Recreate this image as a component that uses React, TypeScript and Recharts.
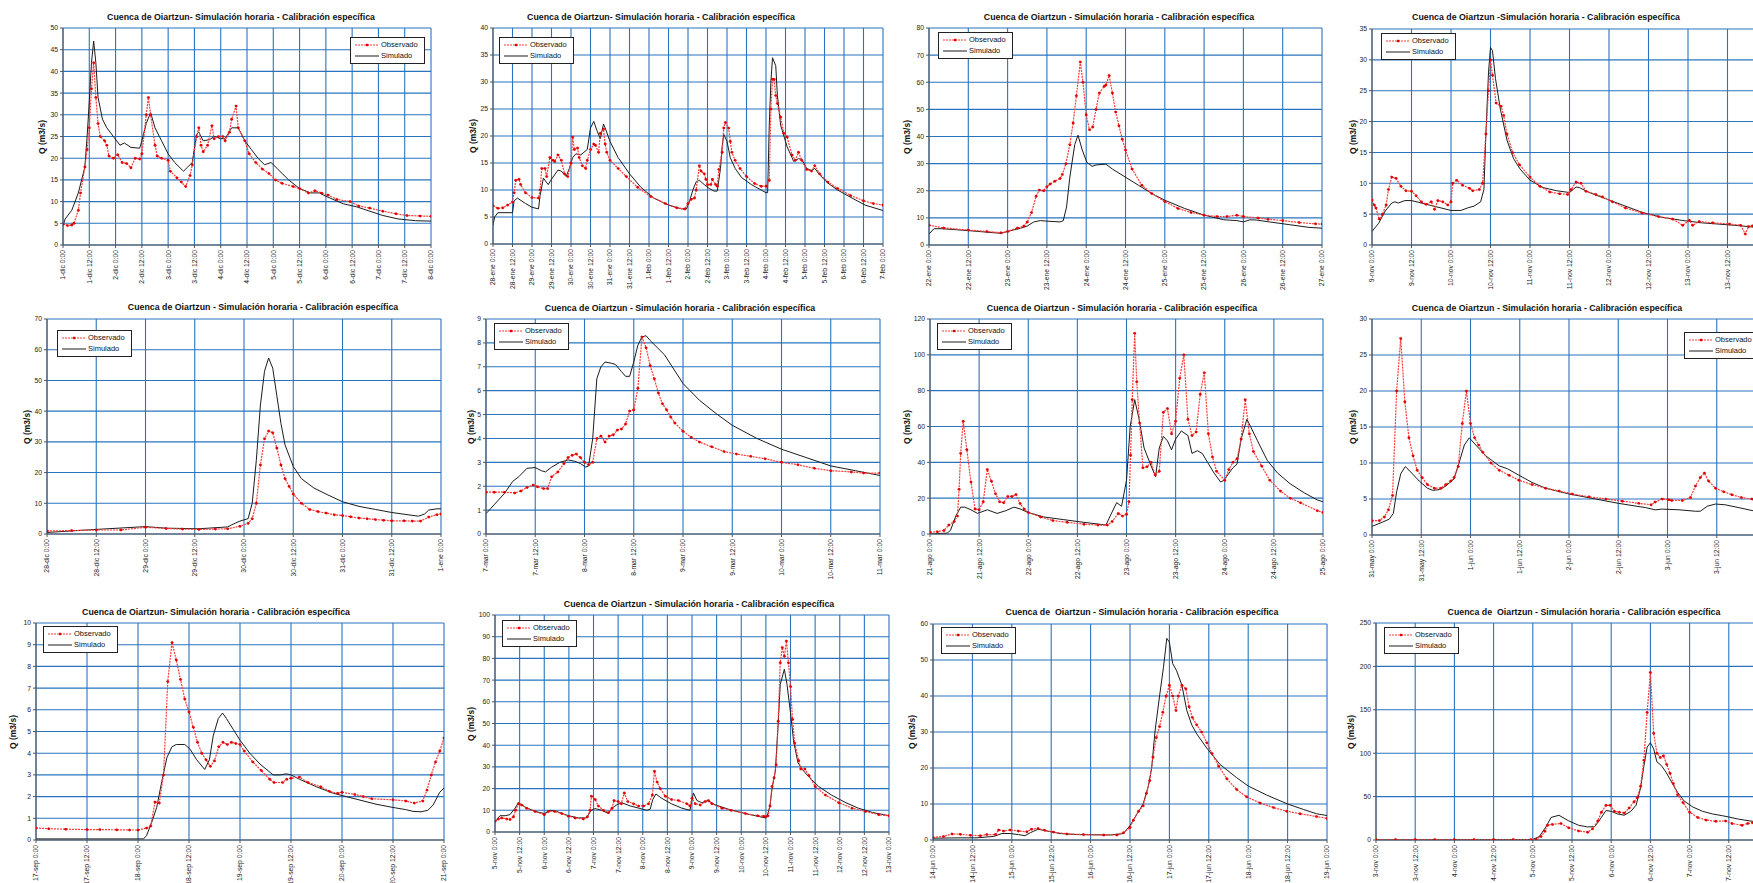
import React from 'react';
import { LineChart, Line, XAxis, YAxis, CartesianGrid, Legend } from 'recharts';

type Pt = [number, number];

const FONT = '"Liberation Sans", Arial, Helvetica, sans-serif';
const GRID = '#2a74bf';
const OBS_LINE = '#ff3a3a';
const OBS_DOT = '#e00000';
const SIM_LINE = '#1c1c1c';

const TITLE_A = 'Cuenca de Oiartzun- Simulación horaria - Calibración específica';
const TITLE_B = 'Cuenca de Oiartzun - Simulación horaria - Calibración específica';
const TITLE_C = 'Cuenca de Oiartzun -Simulación horaria - Calibración específica';
const TITLE_D = 'Cuenca de  Oiartzun - Simulación horaria - Calibración específica';
const Y_LABEL = 'Q (m3/s)';

// ---- panel 1: diciembre ----
const p1Ticks = ['1-dic 0:00', '1-dic 12:00', '2-dic 0:00', '2-dic 12:00', '3-dic 0:00', '3-dic 12:00', '4-dic 0:00', '4-dic 12:00', '5-dic 0:00', '5-dic 12:00', '6-dic 0:00', '6-dic 12:00', '7-dic 0:00', '7-dic 12:00', '8-dic 0:00'];
const p1Obs: Pt[] = [[0, 4.8], [2, 4.5], [4, 4.6], [5, 5], [7, 8], [8, 12], [10, 18], [11, 22], [12, 27], [13, 36], [14, 42], [15, 34], [16, 28], [17, 25], [19, 24], [20, 23], [21, 20.5], [23, 20], [25, 20.8], [27, 19], [29, 18.8], [31, 17.8], [33, 20], [35, 19.8], [36, 21], [38, 30], [39, 34], [40, 30], [42, 23], [43, 20.5], [45, 20], [48, 19.5], [49, 17], [52, 15.5], [54, 14.5], [56, 13.5], [58, 16], [59, 18.5], [61, 25], [62, 27], [63, 23], [64, 21.5], [66, 23], [68, 27.5], [69, 24.5], [71, 25], [73, 25], [74, 24], [76, 26], [77, 29], [79, 32], [80, 27], [83, 24], [85, 21], [88, 19], [91, 17.5], [94, 16.5], [97, 15], [100, 14.2], [105, 13.5], [108, 13], [112, 12], [115, 12.5], [118, 12], [121, 11.5], [125, 10.5], [131, 10], [135, 9], [140, 8.5], [146, 7.8], [152, 7.2], [157, 6.8], [163, 6.7], [168, 6.6]];
const p1Sim: Pt[] = [[0, 4.5], [1, 6], [4, 8], [7, 12], [10, 18], [11, 25], [12, 33], [13, 42], [14, 47], [15, 42], [16, 34], [18, 29], [20, 27], [23, 25], [26, 23], [28, 23.5], [31, 22.5], [35, 22.3], [36, 24], [38, 28], [40, 30.5], [42, 27], [45, 24], [48, 21], [51, 19], [55, 17], [57, 18], [59, 19], [61, 25.5], [62, 26], [64, 24], [67, 24.3], [69, 25], [72, 24.5], [74, 24.5], [77, 27], [80, 27], [83, 24], [86, 22], [89, 20], [92, 18.5], [95, 19], [98, 17.5], [103, 15], [108, 13], [113, 12], [117, 12], [121, 11], [128, 9.5], [134, 8.8], [140, 7.8], [146, 6.8], [153, 6], [161, 5.6], [168, 5.5]];

// ---- panel 2: enero-febrero ----
const p2Ticks = ['28-ene 0:00', '28-ene 12:00', '29-ene 0:00', '29-ene 12:00', '30-ene 0:00', '30-ene 12:00', '31-ene 0:00', '31-ene 12:00', '1-feb 0:00', '1-feb 12:00', '2-feb 0:00', '2-feb 12:00', '3-feb 0:00', '3-feb 12:00', '4-feb 0:00', '4-feb 12:00', '5-feb 0:00', '5-feb 12:00', '6-feb 0:00', '6-feb 12:00', '7-feb 0:00'];
const p2Obs: Pt[] = [[0, 7.1], [3, 6.6], [6, 6.7], [9, 7.2], [12, 7.8], [13, 9.5], [14, 11.8], [16, 12], [17, 11], [20, 9.5], [24, 8.6], [28, 8.5], [29, 10], [30, 14], [32, 14], [33, 12.5], [35, 16], [37, 15.5], [38, 15.3], [40, 16.5], [42, 15.5], [44, 13], [46, 12.5], [48, 15], [49, 19.8], [50, 17.5], [52, 17.8], [53, 16], [55, 14.5], [57, 14], [58, 15.5], [60, 17.5], [62, 18.5], [63, 18.3], [65, 17], [66, 20.5], [68, 21.3], [69, 18.5], [70, 17], [72, 15.5], [77, 14], [82, 12.5], [89, 10.5], [97, 8.8], [106, 7.5], [113, 6.7], [118, 6.5], [120, 7.5], [122, 8.3], [124, 8.5], [125, 10], [127, 14.5], [128, 13.5], [130, 13], [131, 12], [132, 11], [134, 11], [135, 12], [137, 11], [138, 10.7], [139, 13.8], [141, 17], [142, 21.5], [143, 22.5], [145, 21.5], [146, 19], [147, 17], [149, 15.5], [152, 14], [156, 12.5], [161, 11.2], [165, 10.7], [168, 10.7], [170, 11.8], [171, 25], [172, 30.5], [173, 30.5], [174, 27.5], [175, 26], [177, 23.5], [179, 20.5], [181, 19.8], [184, 16.5], [186, 15.5], [188, 17], [190, 15.5], [193, 13.8], [196, 13.5], [198, 14.5], [201, 13], [206, 11.5], [212, 10.3], [220, 9], [228, 8], [234, 7.5], [240, 7.2]];
const p2Sim: Pt[] = [[0, 3.5], [1, 5], [3, 5.8], [12, 5.8], [13, 8], [15, 8.5], [20, 7.5], [24, 6.8], [28, 6.5], [29, 9], [31, 12.2], [34, 11], [36, 12], [40, 13.7], [42, 13.5], [45, 12.5], [47, 14], [49, 16], [51, 16.7], [54, 16.5], [56, 17], [58, 17.5], [60, 21.5], [62, 22.7], [64, 21], [66, 19.5], [68, 22.2], [69, 21.5], [72, 19], [77, 16], [84, 13], [91, 10.5], [99, 8.5], [108, 7.2], [116, 6.5], [119, 6.5], [121, 8], [123, 10], [125, 11.5], [127, 11.8], [130, 11], [133, 10.3], [136, 9.8], [138, 9.8], [140, 14], [141, 18], [142, 20.3], [144, 19], [146, 16], [149, 14], [153, 12.3], [159, 11], [165, 10], [168, 9.5], [169, 9.5], [170, 22], [171, 30], [172, 34.5], [174, 33], [175, 27.5], [177, 22], [181, 18], [184, 16], [185, 15.3], [188, 15.8], [190, 15.7], [193, 14], [196, 13.6], [198, 14], [201, 12.8], [206, 11.3], [212, 10], [221, 8.5], [229, 7.2], [240, 6.2]];

// ---- panel 3: enero ----
const p3Ticks = ['22-ene 0:00', '22-ene 12:00', '23-ene 0:00', '23-ene 12:00', '24-ene 0:00', '24-ene 12:00', '25-ene 0:00', '25-ene 12:00', '26-ene 0:00', '26-ene 12:00', '27-ene 0:00'];
const p3Obs: Pt[] = [[0, 7.3], [4.5, 6.3], [12, 5.5], [17.7, 5], [22, 4.5], [24, 5], [27, 6.3], [29, 7], [30, 8.5], [31.3, 12], [32.7, 18], [33.7, 20.3], [35, 20], [36, 21.5], [37, 22.5], [38.4, 23.5], [40, 24.5], [40.7, 26], [41.8, 30], [43, 37], [44, 45], [45, 55], [46.2, 67.5], [47, 60], [48, 48], [49, 42.5], [50, 43.5], [51, 50], [52, 56], [53.5, 58.5], [54, 59], [55, 62.5], [56, 56], [57, 49], [58, 44], [59, 39], [60, 35], [62, 28], [65, 22], [68, 19], [72, 16], [76, 13.5], [80, 12], [84, 11], [88, 10.5], [91, 10.5], [94, 11], [96, 10.5], [100.5, 10], [103.5, 9.5], [108, 9], [113, 8.3], [118, 7.8], [120, 7.7]];
const p3Sim: Pt[] = [[0, 4], [1.5, 6], [4, 6], [12, 5.3], [18, 4.7], [22, 4.3], [24, 5], [28, 6.2], [30, 7], [32, 8.5], [34, 9], [36, 8.8], [40, 8.5], [41, 9], [42, 14], [43, 25], [44.5, 37], [45.5, 40.5], [46.8, 35], [48.2, 30.5], [49.8, 29], [51, 29.5], [54, 29.8], [56, 28], [60, 25], [64, 22], [68, 19], [72, 16.5], [78, 13.5], [84, 11], [90, 9.3], [94, 9], [96, 8.5], [98, 9.3], [100, 9.2], [104, 8.5], [110, 7.5], [116, 6.5], [120, 6.2]];

// ---- panel 4: noviembre ----
const p4Ticks = ['9-nov 0:00', '9-nov 12:00', '10-nov 0:00', '10-nov 12:00', '11-nov 0:00', '11-nov 12:00', '12-nov 0:00', '12-nov 12:00', '13-nov 0:00', '13-nov 12:00', '14-nov 0:00'];
const p4Obs: Pt[] = [[0, 7.3], [0.7, 6.5], [1.2, 6], [2.2, 4.2], [3.2, 5], [4.3, 6.5], [5, 9], [6, 11], [7.3, 10.8], [8.8, 9.5], [10.3, 8.8], [12, 8.7], [13.4, 8], [15, 7], [16.4, 6.6], [18, 7], [19, 5.8], [20, 7.2], [21.5, 7], [23, 6.5], [24, 7], [24.5, 10], [25.7, 10.5], [27.5, 9.7], [29.6, 9.2], [30.6, 8.8], [32.6, 9], [33.6, 10], [34.6, 18], [35.4, 25], [36, 30], [36.6, 27.5], [37.7, 23], [39.2, 22.5], [40, 21], [41, 18], [42.7, 15], [44.8, 13], [48, 11], [51, 9.5], [54, 8.6], [57, 8.3], [59.4, 8.2], [60.5, 9], [62, 10.2], [63.5, 10], [65, 8.7], [68, 8.2], [70, 7.8], [73, 7], [77, 6], [82, 5.2], [87, 4.6], [91.3, 4.2], [94.4, 3.2], [96.4, 4], [97.4, 3.2], [99.4, 3.8], [103.5, 3.6], [108.6, 3.4], [112, 3.2], [113.4, 1.8], [114.4, 3], [115.6, 3.1], [120, 2.9]];
const p4Sim: Pt[] = [[0, 2.2], [2, 3.5], [4, 5.5], [6, 6.8], [7, 7], [8, 6.8], [10, 7.2], [12, 7.2], [15, 6.8], [18, 6.4], [21, 6], [24, 5.6], [27, 5.6], [29, 6], [31, 6.3], [33, 7], [34, 9], [34.6, 18], [35.4, 28], [36, 32], [36.6, 31.5], [37.5, 27], [39, 22], [41, 17], [43, 14], [45, 12.3], [48, 10.5], [52, 9.3], [56, 8.8], [60, 8.5], [62, 9.4], [63, 9.3], [66, 8.5], [70, 7.7], [76, 6.5], [82, 5.3], [88, 4.5], [94, 4], [100, 3.6], [110, 3.2], [116, 2.9], [120, 2.7]];

// ---- panel 5: diciembre-enero ----
const p5Ticks = ['28-dic 0:00', '28-dic 12:00', '29-dic 0:00', '29-dic 12:00', '30-dic 0:00', '30-dic 12:00', '31-dic 0:00', '31-dic 12:00', '1-ene 0:00'];
const p5Obs: Pt[] = [[0, 1], [6, 1.1], [12, 1.3], [18, 1.3], [24, 2.2], [29, 1.8], [33, 1.6], [37, 1.5], [41, 1.6], [44, 1.7], [47, 2.5], [49, 3.5], [50, 5], [51, 10], [52, 22.5], [53, 31], [54, 33.5], [55, 33], [56, 28], [57, 22.5], [58, 18], [59, 15.5], [60, 13], [62, 10], [64, 8], [66, 7.3], [68, 6.8], [70, 6.3], [72, 6], [74, 5.6], [76, 5.2], [78, 5], [80, 4.7], [82, 4.5], [84, 4.3], [87, 4.3], [89, 4.2], [91, 4.2], [93, 5.5], [95, 6.3], [96, 6.5]];
const p5Sim: Pt[] = [[0, 0.5], [12, 1.5], [24, 2.4], [29, 1.9], [37, 1.7], [44, 2.3], [45, 3], [47, 4.2], [49, 5], [50, 10], [51, 24], [52, 42], [53, 53], [54, 57.3], [55, 54], [56, 45], [57, 36], [58, 29], [60, 22], [62, 18], [65, 15], [68, 13], [72, 10.5], [76, 9], [80, 8], [84, 7], [90.5, 5.8], [92, 6.5], [93, 7.8], [95, 8.2], [96, 8.2]];

// ---- panel 6: marzo ----
const p6Ticks = ['7-mar 0:00', '7-mar 12:00', '8-mar 0:00', '8-mar 12:00', '9-mar 0:00', '9-mar 12:00', '10-mar 0:00', '10-mar 12:00', '11-mar 0:00'];
const p6Obs: Pt[] = [[0, 1.75], [2, 1.75], [4.5, 1.75], [7, 1.72], [8.5, 1.8], [10, 1.95], [11.5, 2.05], [12.5, 1.98], [14, 1.9], [15, 1.9], [16, 2.4], [17.5, 2.6], [19, 2.95], [20, 3.2], [21, 3.3], [22, 3.35], [23, 3.2], [24, 3], [25, 2.9], [26, 3], [27, 4], [28, 4.1], [29, 3.85], [30, 4.1], [31, 4.15], [32, 4.35], [33, 4.4], [34, 4.6], [35, 5.15], [36, 5.2], [37, 6.1], [38, 8.25], [39, 7.8], [40, 7.05], [41, 6.5], [42, 5.9], [43, 5.45], [44, 5.2], [45, 4.9], [46, 4.65], [48, 4.3], [50, 4.05], [52, 3.85], [55, 3.65], [58, 3.45], [61, 3.35], [64.5, 3.25], [68, 3.15], [72, 3], [76, 2.9], [80, 2.75], [84, 2.65], [89, 2.6], [92, 2.55], [96, 2.55]];
const p6Sim: Pt[] = [[0, 0.85], [4.5, 1.7], [6.5, 2.2], [8, 2.4], [10, 2.75], [12, 2.78], [13.5, 2.65], [14.5, 2.6], [16, 2.8], [18, 3], [20, 3.1], [21.5, 3.05], [23, 2.95], [24.3, 2.8], [25, 2.85], [26, 4], [27, 6.5], [28, 7], [29, 7.2], [30.5, 7.15], [31.5, 7.1], [33, 6.8], [34, 6.6], [35, 6.6], [36, 7.2], [37, 7.9], [38, 8.25], [39, 8.3], [40, 8.1], [43.5, 7.5], [48, 6.3], [52, 5.6], [56, 5.05], [60, 4.55], [66, 4], [72, 3.55], [78, 3.2], [84, 2.85], [90, 2.65], [96, 2.45]];

// ---- panel 7: agosto ----
const p7Ticks = ['21-ago 0:00', '21-ago 12:00', '22-ago 0:00', '22-ago 12:00', '23-ago 0:00', '23-ago 12:00', '24-ago 0:00', '24-ago 12:00', '25-ago 0:00'];
const p7Obs: Pt[] = [[0, 1], [1.8, 1.3], [3.4, 2], [4.6, 5], [5.9, 7], [6.7, 10], [7.1, 25], [7.5, 45], [8.1, 63], [9, 47], [10, 29], [11, 14], [12, 13.5], [13, 18], [14, 36], [15, 29.5], [16, 22.5], [17, 18], [18, 17.5], [19, 21], [20, 21], [21, 22], [22, 17], [23, 14], [24, 12], [27, 9.5], [30, 7.5], [33.5, 6.5], [37.6, 5.5], [41, 5], [43.3, 5], [44.5, 7], [46, 11.5], [47, 10], [48, 11], [48.6, 18], [49, 44], [49.4, 75], [50, 112], [50.5, 85], [51.2, 62], [52, 37], [53, 37.5], [54, 40], [55, 33], [56, 35], [57, 68], [58, 70], [59, 56], [60, 63], [61, 87], [62, 100], [63, 64], [64, 55], [65, 57], [66, 78], [67, 90], [68, 56], [69, 43], [70, 35], [72, 30], [73, 36], [74, 40], [75, 42], [76, 53], [77, 75], [78, 56], [79, 46], [81, 38], [83, 30], [85.6, 24], [88, 20], [90.5, 17.5], [94.6, 13], [96, 12]];
const p7Sim: Pt[] = [[0, 0], [4.2, 0.5], [5, 2], [6.3, 10], [7.5, 15], [8.5, 15], [10, 13.5], [11.6, 11.5], [14, 13.5], [16.4, 11.5], [18.5, 13], [20.5, 15], [22, 14], [24, 12], [27.8, 9.5], [32.7, 8], [37.6, 6.5], [43, 5], [44, 10], [45.6, 17.5], [46.8, 15.5], [48, 30], [48.9, 60], [50, 75], [51, 65], [52.3, 48], [54, 38], [55.1, 32], [56, 48], [57, 54.5], [58, 52], [59, 47], [60, 53], [61.4, 57.5], [63, 55], [64, 45], [65.3, 46.5], [66.5, 45], [67.8, 40], [69.4, 34], [71, 29], [71.8, 30], [74, 37], [75, 39], [76, 53], [77.4, 64], [78.3, 60], [80, 52], [82.4, 41], [84.9, 34], [88, 28], [91.4, 23], [94.6, 19], [96, 18]];

// ---- panel 8: mayo-junio ----
const p8Ticks = ['31-may 0:00', '31-may 12:00', '1-jun 0:00', '1-jun 12:00', '2-jun 0:00', '2-jun 12:00', '3-jun 0:00', '3-jun 12:00', '4-jun 0:00'];
const p8Obs: Pt[] = [[0, 2], [1.8, 2], [3, 2.5], [4, 3.5], [5, 5.5], [6, 20], [7, 27.3], [8, 18.5], [9, 13.5], [10, 11], [11, 9], [12.2, 8], [13.5, 7], [15.2, 6.5], [16.8, 6.5], [18, 7], [19.2, 7.5], [20, 8], [21, 9.5], [22, 15.5], [23, 20], [24, 15.5], [25, 13.5], [26, 12.5], [27, 11.5], [29, 10], [31, 9], [33.4, 8.3], [35.8, 7.6], [39, 7], [42.3, 6.5], [45.6, 6.1], [48.8, 5.7], [52.9, 5.3], [57, 5], [61, 4.7], [65, 4.4], [68, 4.2], [69, 4.6], [70.7, 5], [72.3, 4.9], [73, 4.8], [75.6, 4.8], [77.6, 5.2], [78.8, 6.8], [80, 8], [81, 8.6], [82, 7.5], [83.7, 6.5], [85.7, 6], [87.7, 5.6], [90, 5.2], [92.6, 5], [95, 4.9], [96, 4.9]];
const p8Sim: Pt[] = [[0, 1.2], [2.6, 1.8], [4.2, 2.2], [5.2, 3], [6, 6], [7, 8.5], [8.1, 9.5], [9, 9], [11.5, 7.5], [13.5, 6.5], [14.8, 6.2], [16.4, 6.3], [18, 6.8], [20, 7.8], [21.2, 10], [22.5, 12.5], [23.7, 13.5], [25.3, 12.5], [27.7, 11], [31, 9.6], [33, 9.2], [35.8, 8.3], [39, 7.3], [42.3, 6.5], [48, 5.7], [54.5, 5], [60, 4.4], [66.7, 3.8], [69, 3.5], [70.7, 3.6], [74.8, 3.5], [78.8, 3.3], [80, 3.3], [81.7, 4], [83.7, 4.3], [86, 4.2], [89.4, 3.8], [92.6, 3.4], [96, 3.1]];

// ---- panel 9: septiembre ----
const p9Ticks = ['17-sep 0:00', '17-sep 12:00', '18-sep 0:00', '18-sep 12:00', '19-sep 0:00', '19-sep 12:00', '20-sep 0:00', '20-sep 12:00', '21-sep 0:00'];
const p9Obs: Pt[] = [[0, 0.55], [3, 0.52], [7, 0.5], [12, 0.48], [15, 0.48], [19, 0.47], [22, 0.46], [24, 0.46], [26, 0.55], [27, 0.65], [28, 1.75], [29, 1.7], [30, 3], [31, 7.3], [32, 9.1], [33, 8.3], [34, 7.4], [35, 6.5], [36, 5.9], [37, 5.2], [38, 4.5], [39, 4], [40, 3.7], [41, 3.4], [42, 3.65], [43, 4.3], [44, 4.5], [45, 4.4], [46, 4.5], [47, 4.45], [48, 4.4], [49, 4.1], [51, 3.6], [53, 3.2], [55, 2.8], [56, 2.65], [58, 2.65], [59, 2.8], [60, 2.85], [62, 2.9], [64, 2.65], [67, 2.45], [69, 2.25], [71, 2.15], [72, 2.2], [75, 2.1], [77, 2], [79, 1.9], [84, 1.85], [87, 1.8], [89, 1.7], [91, 1.8], [92, 2.3], [93, 3], [94, 3.6], [95, 4.1], [96, 4.7]];
const p9Sim: Pt[] = [[0, 0.05], [24, 0.05], [25.3, 0.05], [26, 0.2], [27.2, 0.8], [28.4, 1.5], [29.6, 2.7], [30.8, 3.8], [32, 4.3], [33, 4.4], [35, 4.4], [36.2, 4.2], [37.8, 3.7], [39.7, 3.25], [40.8, 3.7], [41.7, 4.8], [42.9, 5.6], [43.9, 5.85], [44.8, 5.6], [46.4, 5.1], [48, 4.6], [50.3, 4], [52.7, 3.5], [55.8, 3], [57.4, 3], [58.9, 3.05], [60, 3], [62, 2.8], [66, 2.45], [70, 2.15], [72, 2.05], [76, 1.85], [80, 1.65], [84, 1.5], [87, 1.4], [88.7, 1.32], [90.6, 1.3], [92.2, 1.37], [93.4, 1.6], [95, 2.2], [96, 2.4]];

// ---- panel 10: noviembre ----
const p10Ticks = ['5-nov 0:00', '5-nov 12:00', '6-nov 0:00', '6-nov 12:00', '7-nov 0:00', '7-nov 12:00', '8-nov 0:00', '8-nov 12:00', '9-nov 0:00', '9-nov 12:00', '10-nov 0:00', '10-nov 12:00', '11-nov 0:00', '11-nov 12:00', '12-nov 0:00', '12-nov 12:00', '13-nov 0:00'];
const p10Obs: Pt[] = [[0, 5], [1.6, 6], [3.3, 6.5], [5.7, 6], [7.3, 5.8], [9, 7], [10, 10], [11.4, 13], [13, 12.5], [15.4, 11], [19.5, 9.5], [24, 8], [26, 9.5], [29, 9.5], [32.5, 8.5], [35.8, 7.3], [39, 6.5], [43, 6], [45, 7], [46.3, 10], [47, 16.5], [48.8, 15], [50.4, 12], [52.8, 10], [55.3, 9], [57, 11], [58, 14.5], [60, 14], [61.5, 13], [63, 18], [64.7, 14], [67.5, 13], [70, 12], [72.4, 12], [74.8, 13], [76.7, 17], [77.7, 28], [79, 23], [80.5, 20], [83, 16.5], [86, 15], [89.4, 14.5], [93.5, 13], [95, 12], [96, 15.5], [97.6, 13], [100, 12.5], [102.4, 14], [104, 14.5], [105.7, 13], [110.6, 11], [115, 10], [122, 8.5], [128, 7.5], [131, 7.3], [132, 7], [133, 7.5], [134, 12], [135, 21], [136, 25], [137, 31], [138, 51], [139, 78], [140, 85], [141, 81], [142, 88], [143, 78], [144, 67], [145, 52], [146, 41], [148, 33], [149, 29], [151, 29], [153, 26], [156, 21], [161, 17], [167.5, 13.5], [174, 11], [180.5, 9.5], [187, 8], [192, 7.5]];
const p10Sim: Pt[] = [[0, 4.5], [2.4, 7.5], [4.9, 7.5], [7.3, 8], [9.8, 11], [11.4, 13.5], [14.6, 11.5], [19.5, 9.5], [24, 8.5], [27, 10], [30, 9.5], [35.8, 7.5], [40.6, 6.5], [44.7, 6.5], [46.8, 10], [48.8, 10.8], [52, 10], [55.3, 8.5], [57, 11], [59.3, 12.5], [61.8, 13.5], [65.9, 12], [70, 11], [74, 10], [75.6, 10.5], [76.9, 15], [78.4, 17.5], [81.3, 15.5], [86, 13], [91, 11], [95, 10], [96, 15], [96.7, 18], [98.4, 14.5], [100.8, 13.5], [103.7, 14.5], [107.3, 12.5], [113.8, 10.5], [122, 8.5], [131.7, 6.5], [132.5, 7], [134, 12], [135, 20], [136.6, 28], [138, 50], [139, 68], [141, 75], [142.3, 68], [144, 55], [145.5, 42], [147.6, 32], [149.6, 29], [152.8, 25.5], [157.7, 21], [164, 17], [171, 13.5], [177, 11], [184, 9], [192, 7.5]];

// ---- panel 11: junio ----
const p11Ticks = ['14-jun 0:00', '14-jun 12:00', '15-jun 0:00', '15-jun 12:00', '16-jun 0:00', '16-jun 12:00', '17-jun 0:00', '17-jun 12:00', '18-jun 0:00', '18-jun 12:00', '19-jun 0:00'];
const p11Obs: Pt[] = [[0, 0.7], [3.2, 1], [5.8, 1.7], [8.3, 1.6], [11.4, 1.3], [14.4, 1.2], [16.4, 1.5], [19, 1.5], [20, 2.8], [21.5, 2.5], [23.5, 2.8], [26, 2.5], [28.6, 2.3], [30, 3], [32, 3.2], [34, 2.7], [36.7, 2.2], [40.8, 1.7], [45.8, 1.5], [52, 1.4], [56, 1.4], [58, 2], [60, 3.5], [61, 5.5], [62.6, 8], [64, 9.5], [65, 13], [66, 16.5], [67, 23], [68, 28.5], [69, 31.5], [70, 35.5], [71, 40], [72, 43], [73, 40], [74, 36], [74.7, 40], [75.8, 43], [77, 42], [78, 37], [79, 34], [80.3, 32], [81.8, 30], [83.4, 27], [85, 24], [87, 20.5], [89.5, 17], [92.5, 14], [95.5, 12], [99.6, 10.3], [103.7, 9], [107.7, 8], [111.8, 7.3], [116.8, 6.5], [120, 6]];
const p11Sim: Pt[] = [[0, 0.5], [8.3, 0.6], [13.4, 0.6], [18.5, 1], [21, 1.8], [23.5, 1.8], [26, 1.5], [28, 1.2], [29.6, 2], [32, 3], [34.7, 2.5], [38.7, 1.8], [43.8, 1.5], [54, 1.4], [58, 1.8], [60, 4], [62, 7], [64, 10], [65.6, 15], [66.6, 20], [67.6, 30], [69, 40], [70.2, 48], [71.2, 56], [72, 55], [73, 49], [74.2, 47], [75.8, 43], [77.3, 36], [78.8, 32], [80.3, 29.5], [83.4, 25.5], [87.4, 21], [92.5, 17.3], [96, 15], [101.6, 12.5], [108, 10], [112.8, 8.5], [116.8, 7.3], [120, 6.8]];

// ---- panel 12: noviembre ----
const p12Ticks = ['3-nov 0:00', '3-nov 12:00', '4-nov 0:00', '4-nov 12:00', '5-nov 0:00', '5-nov 12:00', '6-nov 0:00', '6-nov 12:00', '7-nov 0:00', '7-nov 12:00', '8-nov 0:00'];
const p12Obs: Pt[] = [[0, 0.5], [6, 0.5], [12, 0.5], [18, 0.5], [24, 0.5], [30, 0.5], [36, 0.5], [42, 0.5], [47.4, 0.5], [49, 1], [50.5, 4], [51.7, 10], [52.5, 17], [54, 18], [56.6, 19], [59, 14], [62, 10.5], [64.8, 9], [66.3, 13], [67.9, 22], [69, 32], [70.4, 40], [71.7, 40], [73, 33], [74.5, 32], [76, 31], [77.5, 37], [79, 44], [80, 49], [81, 62], [82, 92], [83, 147], [84, 193], [85, 123], [86, 100], [87, 95], [88, 97], [89, 87], [90, 77], [91, 65], [92.3, 52], [94, 43], [96, 32], [98.5, 26], [101, 23], [104, 21.5], [107, 22], [109, 19], [112, 17], [113.8, 19], [115.3, 20], [118, 19.5], [120, 19]];
const p12Sim: Pt[] = [[0, 0], [48, 0.5], [50, 4], [52, 15], [53.6, 26], [56, 28.5], [59, 22], [62, 17], [64.8, 15], [67, 15.5], [69, 26], [70.4, 34], [72, 33], [74, 30], [76, 28.5], [78, 33], [79.6, 40], [81, 60], [82, 85], [83, 107], [84, 112], [85, 105], [86, 90], [87.3, 86], [88.8, 78], [90.3, 68], [92.3, 55], [94.3, 45], [97, 38], [100, 33], [103, 30], [106, 28], [108, 26.5], [111, 24], [115.3, 21.5], [120, 20]];

interface PanelCfg {
  title: string;
  ticks: string[];
  yMax: number;
  yStep: number;
  obs: Pt[];
  sim: Pt[];
  // layout (page pixels): plot box, title centre, y label x, legend top-left
  box: [number, number, number, number];
  titleAt: [number, number];
  yLabelX: number;
  legendAt: [number, number];
}

const panels: PanelCfg[] = [
  { title: TITLE_A, ticks: p1Ticks, yMax: 50, yStep: 5, obs: p1Obs, sim: p1Sim, box: [63, 28, 431, 245], titleAt: [241, 17], yLabelX: 42, legendAt: [350, 37] },
  { title: TITLE_A, ticks: p2Ticks, yMax: 40, yStep: 5, obs: p2Obs, sim: p2Sim, box: [493, 28, 883, 244], titleAt: [661, 17], yLabelX: 473, legendAt: [499, 37] },
  { title: TITLE_B, ticks: p3Ticks, yMax: 80, yStep: 10, obs: p3Obs, sim: p3Sim, box: [929, 28, 1322, 245], titleAt: [1119, 17], yLabelX: 907, legendAt: [938, 32] },
  { title: TITLE_C, ticks: p4Ticks, yMax: 35, yStep: 5, obs: p4Obs, sim: p4Sim, box: [1372, 29, 1767, 245], titleAt: [1546, 17], yLabelX: 1353, legendAt: [1381, 33] },
  { title: TITLE_B, ticks: p5Ticks, yMax: 70, yStep: 10, obs: p5Obs, sim: p5Sim, box: [47, 319, 441, 534], titleAt: [263, 307], yLabelX: 27, legendAt: [57, 330] },
  { title: TITLE_B, ticks: p6Ticks, yMax: 9, yStep: 1, obs: p6Obs, sim: p6Sim, box: [486, 319, 880, 534], titleAt: [680, 308], yLabelX: 471, legendAt: [494, 323] },
  { title: TITLE_B, ticks: p7Ticks, yMax: 120, yStep: 20, obs: p7Obs, sim: p7Sim, box: [930, 319, 1323, 534], titleAt: [1122, 308], yLabelX: 907, legendAt: [937, 323] },
  { title: TITLE_B, ticks: p8Ticks, yMax: 30, yStep: 5, obs: p8Obs, sim: p8Sim, box: [1372, 319, 1766, 535], titleAt: [1547, 308], yLabelX: 1353, legendAt: [1684, 332] },
  { title: TITLE_A, ticks: p9Ticks, yMax: 10, yStep: 1, obs: p9Obs, sim: p9Sim, box: [36, 623, 444, 840], titleAt: [216, 612], yLabelX: 13, legendAt: [43, 626] },
  { title: TITLE_B, ticks: p10Ticks, yMax: 100, yStep: 10, obs: p10Obs, sim: p10Sim, box: [495, 615, 889, 832], titleAt: [699, 604], yLabelX: 471, legendAt: [502, 620] },
  { title: TITLE_D, ticks: p11Ticks, yMax: 60, yStep: 10, obs: p11Obs, sim: p11Sim, box: [933, 624, 1327, 840], titleAt: [1142, 612], yLabelX: 912, legendAt: [941, 627] },
  { title: TITLE_D, ticks: p12Ticks, yMax: 250, yStep: 50, obs: p12Obs, sim: p12Sim, box: [1376, 623, 1768, 840], titleAt: [1584, 612], yLabelX: 1351, legendAt: [1384, 627] },
];

const YW = 30;
const MT = 4;
const MR = 4;
const XH = 50;

function DateTick(props: any) {
  const { x, y, payload, labels } = props;
  const label = labels[Math.round(payload.value / 12)] ?? '';
  return (
    <text
      x={x}
      y={y}
      transform={`rotate(-90 ${x} ${y})`}
      textAnchor="end"
      dy="0.35em"
      fontSize={6.8}
      fill="#222"
      fontFamily={FONT}
    >
      {label}
    </text>
  );
}

function LegendBox() {
  return (
    <div
      style={{
        border: '1px solid #222',
        background: '#fff',
        padding: '2px 6px 2px 4px',
        fontFamily: FONT,
        fontSize: 7.5,
        lineHeight: '10.5px',
        color: '#111',
        whiteSpace: 'nowrap',
      }}
    >
      <div style={{ display: 'flex', alignItems: 'center' }}>
        <svg width={24} height={6}>
          <line x1={0} y1={3} x2={24} y2={3} stroke={OBS_LINE} strokeWidth={1.2} strokeDasharray="2 1" />
          <rect x={11} y={1.8} width={2.4} height={2.4} fill={OBS_DOT} />
        </svg>
        <span style={{ marginLeft: 2 }}>Observado</span>
      </div>
      <div style={{ display: 'flex', alignItems: 'center' }}>
        <svg width={24} height={6}>
          <line x1={0} y1={3} x2={24} y2={3} stroke={SIM_LINE} />
        </svg>
        <span style={{ marginLeft: 2 }}>Simulado</span>
      </div>
    </div>
  );
}

function Panel({ p }: { p: PanelCfg }) {
  const [x0, y0, x1, y1] = p.box;
  const left = x0 - YW;
  const top = y0 - MT;
  const width = x1 - x0 + YW + MR;
  const height = y1 - y0 + MT + XH;
  const xTicks = p.ticks.map((_, i) => i * 12);
  const yTicks: number[] = [];
  for (let i = 0; i * p.yStep <= p.yMax + 1e-9; i++) yTicks.push(i * p.yStep);
  const obs = p.obs.map(([h, v]) => ({ h, v }));
  const sim = p.sim.map(([h, v]) => ({ h, v }));

  return (
    <>
      <div style={{ position: 'absolute', left, top }}>
        <LineChart width={width} height={height} margin={{ top: MT, right: MR, left: 0, bottom: 0 }}>
          <CartesianGrid stroke={GRID} strokeWidth={1.1} />
          <XAxis
            type="number"
            dataKey="h"
            domain={[0, xTicks[xTicks.length - 1]]}
            ticks={xTicks}
            interval={0}
            height={XH}
            allowDataOverflow
            axisLine={{ stroke: '#555' }}
            tickLine={{ stroke: '#555' }}
            tickSize={3}
            tick={(tp: any) => <DateTick {...tp} labels={p.ticks} />}
          />
          <YAxis
            type="number"
            domain={[0, p.yMax]}
            ticks={yTicks}
            interval={0}
            width={YW}
            allowDataOverflow
            axisLine={{ stroke: '#555' }}
            tickLine={{ stroke: '#555' }}
            tickSize={3}
            tick={{ fontSize: 6.8, fill: '#222', fontFamily: FONT }}
          />
          <Line
            data={sim}
            dataKey="v"
            name="Simulado"
            stroke={SIM_LINE}
            strokeWidth={1}
            dot={false}
            activeDot={false}
            isAnimationActive={false}
          />
          <Line
            data={obs}
            dataKey="v"
            name="Observado"
            stroke={OBS_LINE}
            strokeWidth={1.2}
            strokeDasharray="2 1"
            dot={{ r: 1.25, fill: OBS_DOT, stroke: OBS_DOT, strokeWidth: 0.4 }}
            activeDot={false}
            isAnimationActive={false}
          />
          <Legend
            layout="vertical"
            align="center"
            verticalAlign="middle"
            content={() => <LegendBox />}
            wrapperStyle={{ left: p.legendAt[0] - left, top: p.legendAt[1] - top, width: 'auto', height: 'auto' }}
          />
        </LineChart>
      </div>
      <div
        style={{
          position: 'absolute',
          left: p.titleAt[0],
          top: p.titleAt[1],
          transform: 'translate(-50%, -50%)',
          whiteSpace: 'pre',
          fontWeight: 'bold',
          fontSize: 8.8,
          color: '#111',
        }}
      >
        {p.title}
      </div>
      <div
        style={{
          position: 'absolute',
          left: p.yLabelX,
          top: (y0 + y1) / 2,
          transform: 'translate(-50%, -50%) rotate(-90deg)',
          whiteSpace: 'nowrap',
          fontWeight: 'bold',
          fontSize: 8.5,
          color: '#111',
        }}
      >
        {Y_LABEL}
      </div>
    </>
  );
}

export default function App() {
  return (
    <div
      style={{
        position: 'absolute',
        left: 0,
        top: 0,
        width: 1753,
        height: 883,
        overflow: 'hidden',
        background: '#fff',
        fontFamily: FONT,
      }}
    >
      {panels.map((p, i) => (
        <Panel key={i} p={p} />
      ))}
    </div>
  );
}
